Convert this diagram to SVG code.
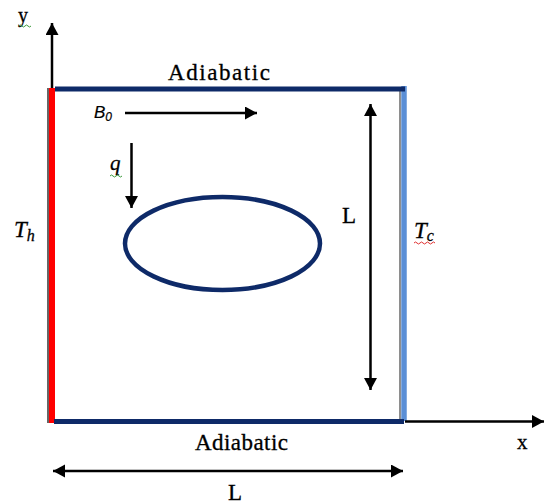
<svg xmlns="http://www.w3.org/2000/svg" width="544" height="504" viewBox="0 0 544 504">
  <style>
    .serif { font-family: "Liberation Serif", "Times New Roman", serif; fill: #000; stroke: #000; stroke-width: 0.3; }
    .sans { font-family: "Liberation Sans", Arial, sans-serif; fill: #000; stroke: #000; stroke-width: 0.2; }
    .arrow { stroke: #000; stroke-width: 2.5; fill: none; }
    .navy { stroke: #0e2a68; fill: none; }
  </style>
  <defs>
    <marker id="ah" markerUnits="userSpaceOnUse" markerWidth="14" markerHeight="14" refX="12" refY="6.5" orient="auto-start-reverse">
      <path d="M0,0 L12,6.5 L0,13 Z" fill="#000"/>
    </marker>
  </defs>
  <rect width="544" height="504" fill="#fff"/>

  <g id="cavity">
    <line x1="48" y1="88" x2="48" y2="423" stroke="#333" stroke-width="1.5"/>
    <line x1="52" y1="88" x2="52" y2="423" stroke="#ff0000" stroke-width="6"/>
    <line x1="400" y1="88" x2="400" y2="422" stroke="#444" stroke-width="1.2"/>
    <line x1="404" y1="86" x2="404" y2="421" stroke="#5b8fd6" stroke-width="5.5"/>
    <line class="navy" x1="55" y1="89" x2="405" y2="89" stroke-width="5"/>
    <line class="navy" x1="54" y1="421.5" x2="404" y2="421.5" stroke-width="5"/>
  </g>

  <g id="obstacle">
    <ellipse class="navy" cx="222.5" cy="243.5" rx="97.5" ry="46.5" stroke-width="4.5"/>
  </g>

  <g id="connectors">
    <line class="arrow" x1="52" y1="88" x2="52" y2="23" marker-end="url(#ah)"/>
    <line class="arrow" x1="405" y1="421.5" x2="544" y2="421.5" marker-end="url(#ah)"/>
    <line class="arrow" x1="125" y1="113" x2="257" y2="113" marker-end="url(#ah)"/>
    <line class="arrow" x1="131.5" y1="143" x2="131.5" y2="208" marker-end="url(#ah)"/>
    <line class="arrow" x1="370.5" y1="104" x2="370.5" y2="390" marker-start="url(#ah)" marker-end="url(#ah)"/>
    <line class="arrow" x1="53" y1="471" x2="403" y2="471" marker-start="url(#ah)" marker-end="url(#ah)"/>
  </g>

  <g id="labels">
    <text id="top-wall" class="serif" x="168" y="80" font-size="23" textLength="102" lengthAdjust="spacing">Adiabatic</text>
    <text id="bottom-wall" class="serif" x="195" y="450" font-size="23" textLength="93" lengthAdjust="spacing">Adiabatic</text>
    <text id="y-label" class="serif" x="18" y="22" font-size="20">y</text>
    <path d="M19,26 q1.5,-2 3,0 t3,0 t3,0 t3,0" stroke="#3a9a3a" stroke-width="1" fill="none"/>
    <text id="x-label" class="serif" x="517" y="449" font-size="21">x</text>
    <text id="th-label" class="serif" x="14" y="237" font-size="23" font-style="italic">T<tspan font-size="16" dy="4">h</tspan></text>
    <text id="tc-label" class="serif" x="414" y="238" font-size="23" font-style="italic">T<tspan font-size="16" dy="3">c</tspan></text>
    <path d="M414,243 q1.5,-2 3,0 t3,0 t3,0 t3,0 t3,0 t3,0 t3,0" stroke="#e03030" stroke-width="1" fill="none"/>
    <text id="b0-label" class="sans" x="94" y="118" font-size="17" font-style="italic">B<tspan font-size="12" dy="3">0</tspan></text>
    <text id="q-label" class="serif" x="110" y="170" font-size="21" font-style="italic">q</text>
    <path d="M110,176 q1.5,-2 3,0 t3,0 t3,0 t3,0" stroke="#3a9a3a" stroke-width="1" fill="none"/>
    <text id="l-vert" class="serif" x="342" y="223" font-size="23">L</text>
    <text id="l-horiz" class="serif" x="228" y="500" font-size="23">L</text>
  </g>
</svg>
